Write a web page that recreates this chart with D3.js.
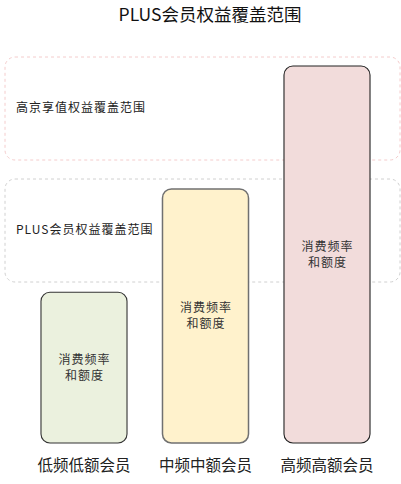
<!DOCTYPE html>
<html>
<head>
<meta charset="utf-8">
<script src="https://cdn.jsdelivr.net/npm/d3@7"></script>
<style>
  body { margin: 0; background: #fff; }
  text { font-family: "Noto Sans CJK SC", "Noto Sans", sans-serif; }
</style>
</head>
<body>
<div id="chart"></div>
<script>
// data
const categories = ["低频低额会员", "中频中额会员", "高频高额会员"];
const values = [40, 67.4, 100];
const barLabels = ["消费频率", "和额度"];
const barFills = ["#ebf1de", "#fff2cc", "#f2dcdb"];
const barStrokes = ["#333333", "#707070", "#222222"];
const zoneLabels = ["高京享值权益覆盖范围", "PLUS会员权益覆盖范围"];
const zoneStrokes = ["#f4cccc", "#d0d0d0"];
const title = "PLUS会员权益覆盖范围";

const width = 401, height = 484;

let svg = d3.select("#chart")
    .append("svg")
    .attr("width", width)
    .attr("height", height);

// scales

let x = d3.scaleBand()
    .domain(categories)
    .range([23.25, 387.75])
    .paddingInner(0.292)
    .paddingOuter(0.146);

let y = d3.scaleLinear()
    .domain([0, 100])
    .range([443, 66]);

// title

svg.append("text")
    .attr("x", 210)
    .attr("y", 15)
    .attr("dy", "0.35em")
    .attr("text-anchor", "middle")
    .attr("font-size", 17.5)
    .attr("fill", "#111")
    .text(title);

// dashed zones

let zoneTops = [57, 179];
let zones = svg.selectAll("g.zone")
    .data(zoneLabels)
    .join("g")
    .attr("class", "zone");

zones.append("rect")
    .attr("x", 5)
    .attr("y", (d, i) => zoneTops[i])
    .attr("width", 395)
    .attr("height", 103)
    .attr("rx", 10)
    .attr("fill", "#fff")
    .attr("stroke", (d, i) => zoneStrokes[i])
    .attr("stroke-width", 1)
    .attr("stroke-dasharray", "3,3");

zones.append("text")
    .attr("x", 16)
    .attr("y", (d, i) => zoneTops[i] + 51)
    .attr("dy", "0.35em")
    .attr("font-size", 12)
    .attr("letter-spacing", 1)
    .attr("fill", "#222")
    .text(d => d);

// bars

let bars = svg.selectAll("g.bar")
    .data(categories)
    .join("g")
    .attr("class", "bar");

bars.append("rect")
    .attr("x", d => x(d))
    .attr("y", (d, i) => y(values[i]))
    .attr("width", x.bandwidth())
    .attr("height", (d, i) => y(0) - y(values[i]))
    .attr("rx", 9)
    .attr("fill", (d, i) => barFills[i])
    .attr("stroke", (d, i) => barStrokes[i])
    .attr("stroke-width", (d, i) => i === 1 ? 1.5 : 1.1);

bars.each(function (d, i) {
    let cy = (y(values[i]) + y(0)) / 2;
    d3.select(this).selectAll("text.inner")
        .data(barLabels)
        .join("text")
        .attr("class", "inner")
        .attr("x", x(d) + x.bandwidth() / 2 + 0.5)
        .attr("y", (t, j) => cy - 8 + j * 16)
        .attr("dy", "0.35em")
        .attr("text-anchor", "middle")
        .attr("font-size", 12)
        .attr("letter-spacing", 1)
        .attr("fill", "#333")
        .text(t => t);
});

// category labels

svg.selectAll("text.cat")
    .data(categories)
    .join("text")
    .attr("class", "cat")
    .attr("x", d => x(d) + x.bandwidth() / 2)
    .attr("y", 466)
    .attr("dy", "0.35em")
    .attr("text-anchor", "middle")
    .attr("font-size", 15.5)
    .attr("fill", "#222")
    .text(d => d);
</script>
</body>
</html>
